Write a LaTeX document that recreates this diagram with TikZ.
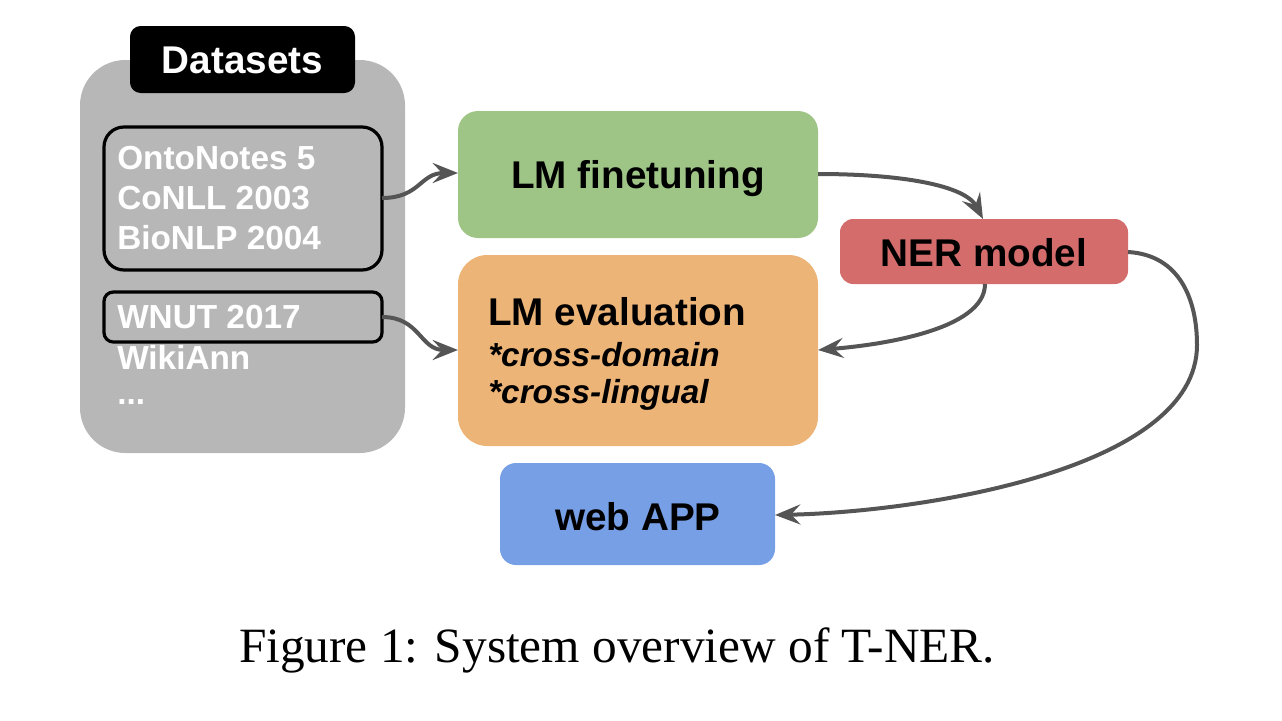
\documentclass[tikz,border=0pt]{standalone}
\usepackage{fontspec}
\setmainfont{Liberation Sans}
\newfontfamily\capfont{Liberation Serif}
\usetikzlibrary{arrows.meta}
\definecolor{dsgray}{HTML}{B7B7B7}
\definecolor{fgreen}{HTML}{9EC486}
\definecolor{forange}{HTML}{EDB477}
\definecolor{fred}{HTML}{D46C6C}
\definecolor{fblue}{HTML}{779FE6}
\definecolor{arrgray}{HTML}{555555}
\begin{document}
\begin{tikzpicture}[x=0.75pt,y=-0.75pt,
  boxtext/.style={font=\fontsize{29}{34}\selectfont\bfseries,text=black},
  subtext/.style={font=\fontsize{25}{30}\selectfont\bfseries\itshape,text=black,anchor=west,inner sep=0pt},
  dstext/.style={font=\fontsize{25}{30}\selectfont\bfseries,text=white,anchor=west,inner sep=0pt},
  conn/.style={draw=arrgray,line width=3pt,-{Stealth[length=19pt,width=15pt,inset=7pt]}}]
\useasboundingbox (0,0) rectangle (1282,721);
% datasets panel
\path[fill=dsgray,rounded corners=34pt] (80,60) rectangle (405,453);
\path[fill=black,rounded corners=8pt] (130,26) rectangle (355,93);
\node[font=\fontsize{29}{34}\selectfont\bfseries,text=white] (dstitle) at (242.5,60) {Datasets};
\draw[line width=2.4pt,rounded corners=15pt] (104,127) rectangle (382,270);
\draw[line width=2.4pt,rounded corners=7pt] (104,292) rectangle (382,342);
\coordinate (g1) at (382,198);
\coordinate (g2) at (382,317);
\node[dstext] (onto) at (117,158) {OntoNotes 5};
\node[dstext] (conll) at (117,198) {CoNLL 2003};
\node[dstext] (bio) at (117,238) {BioNLP 2004};
\node[dstext] (wnut) at (117,317) {WNUT 2017};
\node[dstext] (wiki) at (117,357) {WikiAnn};
\node[dstext] (dots) at (117,402) {...};
% boxes
\path[fill=fgreen,rounded corners=15pt] (458,111) rectangle (818,238);
\coordinate (ftL) at (458,173);
\coordinate (ftR) at (818,174);
\node[boxtext] (ft) at (638,179) {LM finetuning};
\path[fill=forange,rounded corners=22pt] (458,255) rectangle (818,446);
\coordinate (evL) at (458,350);
\coordinate (evR) at (818,350);
\node[boxtext,anchor=west,inner sep=0pt] (ev1) at (488,312) {LM evaluation};
\node[subtext] (ev2) at (488,355) {*cross-domain};
\node[subtext] (ev3) at (488,395) {*cross-lingual};
\path[fill=fred,rounded corners=10pt] (840,219) rectangle (1128,284);
\coordinate (nerT) at (983,219);
\coordinate (nerB) at (985,284);
\coordinate (nerR) at (1128,252);
\node[boxtext] (ner) at (984,253) {NER model};
\path[fill=fblue,rounded corners=12pt] (500,463) rectangle (775,565);
\coordinate (webR) at (775,515);
\node[boxtext] (web) at (638,517) {web APP};
% connectors
\draw[conn] (g1) .. controls (420,198) and (420,173) .. (ftL);
\draw[conn] (g2) .. controls (420,317) and (420,350) .. (evL);
\draw[conn] (ftR) .. controls (900,174) and (965,185) .. (nerT);
\draw[conn] (nerB) .. controls (985,330) and (880,345) .. (evR);
\draw[conn] (nerR) .. controls (1180,255) and (1197,300) .. (1197,345) .. controls (1197,470) and (920,512) .. (webR);
% caption
\node[font=\capfont\fontsize{37}{44}\selectfont] (cap) at (617,650) {Figure 1: System overview of T-NER.};
\end{tikzpicture}
\end{document}
